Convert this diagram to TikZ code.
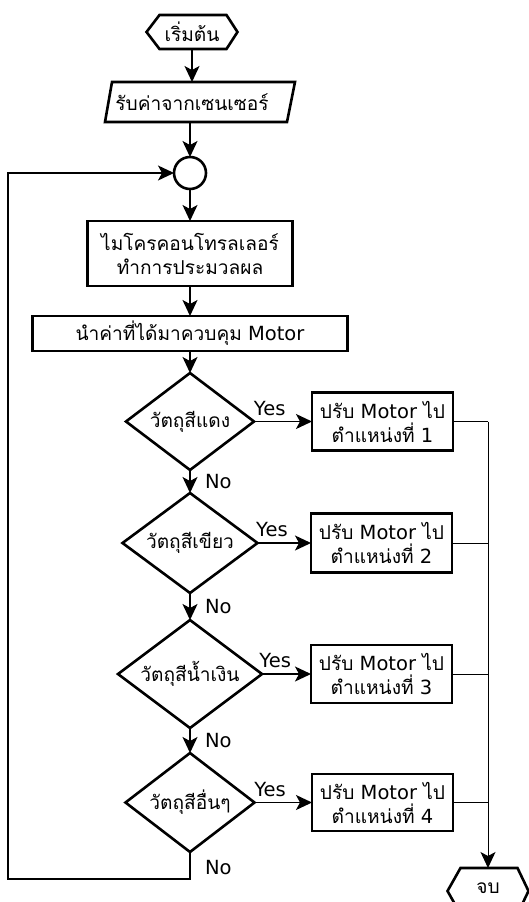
\documentclass[tikz,border=0pt]{standalone}
\usepackage{fontspec}
\setmainfont{DejaVu Sans}
\newfontfamily\thaifont[Script=Thai,Scale=0.98]{Loma}
\usetikzlibrary{shapes.geometric,arrows.meta,calc}
\newcommand\termshape[1]{%
  \draw[shapeline] (#1.west) -- ($(#1.north west)+(13,0)$) -- ($(#1.north east)+(-11,0)$) -- (#1.east)
    -- ($(#1.south east)+(-11,0)$) -- ($(#1.south west)+(13,0)$) -- cycle;}
\begin{document}
\begin{tikzpicture}[x=1pt,y=-1pt,
  every node/.style={font=\fontsize{19.5}{24}\selectfont, outer sep=0pt},
  shapeline/.style={draw, line width=2.6pt, line join=miter},
  proc/.style={rectangle, shapeline, align=center, inner sep=0pt},
  dec/.style={diamond, shapeline, inner sep=0pt},
  term/.style={rectangle, inner sep=0pt, minimum width=91pt, minimum height=34pt},
  arr/.style={line width=1.5pt, -{Stealth[length=16pt,width=15pt,inset=4pt]}},
  thinline/.style={line width=1pt},
  lbl/.style={inner sep=1pt},
  txt/.style={inner sep=0pt}
]
\useasboundingbox[fill=white] (0,0) rectangle (529,902);

% nodes
\node[term] (start) at (192,32) {\thaifont เริ่มต้น};
\termshape{start}
\node[rectangle, inner sep=0pt, minimum height=40pt] (in) at (192,102) {\thaifont รับค่าจากเซนเซอร์};
\draw[shapeline] ($(in.center)+(-80,-20)$) -- ($(in.center)+(103,-20)$) -- ($(in.center)+(95,20)$) -- ($(in.center)+(-87,20)$) -- cycle;
\node[circle, shapeline, minimum size=32pt, inner sep=0pt] (c) at (190,173) {};
\node[proc, minimum width=205pt, minimum height=65pt] (p1) at (190,253.5) {\thaifont ไมโครคอนโทรลเลอร์\\\thaifont ทำการประมวลผล};
\node[proc, minimum width=315pt, minimum height=35pt] (p2) at (190,333.5) {{\thaifont นำค่าที่ได้มาควบคุม} Motor};

\node[dec, minimum width=128pt, minimum height=97pt] (d1) at (190,421.5) {};
\node[txt] (d1t) at (d1) {\thaifont วัตถุสีแดง};
\node[dec, minimum width=135pt, minimum height=100pt] (d2) at (190,543) {};
\node[txt] (d2t) at (d2) {\thaifont วัตถุสีเขียว};
\node[dec, minimum width=144pt, minimum height=108pt] (d3) at (190,674) {};
\node[txt] (d3t) at (d3) {\thaifont วัตถุสีน้ำเงิน};
\node[dec, minimum width=129pt, minimum height=99pt] (d4) at (190,802.5) {};
\node[txt] (d4t) at (d4) {\thaifont วัตถุสีอื่นๆ};

\node[proc, minimum width=141pt, minimum height=58pt] (r1) at (382.5,421.5) {{\thaifont ปรับ} Motor {\thaifont ไป}\\{\thaifont ตำแหน่งที่} 1};
\node[proc, minimum width=141pt, minimum height=59pt] (r2) at (381.5,543) {{\thaifont ปรับ} Motor {\thaifont ไป}\\{\thaifont ตำแหน่งที่} 2};
\node[proc, minimum width=141pt, minimum height=58pt] (r3) at (381.5,674) {{\thaifont ปรับ} Motor {\thaifont ไป}\\{\thaifont ตำแหน่งที่} 3};
\node[proc, minimum width=141pt, minimum height=57pt] (r4) at (382.5,802.5) {{\thaifont ปรับ} Motor {\thaifont ไป}\\{\thaifont ตำแหน่งที่} 4};

\node[term, minimum width=81pt, minimum height=46pt] (end) at (488,891) {};
\termshape{end}
\node[txt] (endt) at (488,888) {\thaifont จบ};

% main flow
\draw[arr] (start) -- (in);
\draw[arr] (in.south -| c) -- (c.north);
\draw[arr] (c) -- (p1);
\draw[arr] (p1) -- (p2);
\draw[arr] (p2) -- (d1);
\draw[arr] (d1) -- node[lbl, right=14pt]{No} (d2);
\draw[arr] (d2) -- node[lbl, right=14pt]{No} (d3);
\draw[arr] (d3) -- node[lbl, right=14pt]{No} (d4);

% yes branches
\draw[arr] (d1) -- node[lbl, pos=0.27, above=5pt]{Yes} (r1);
\draw[arr] (d2) -- node[lbl, pos=0.27, above=5pt]{Yes} (r2);
\draw[arr] (d3) -- node[lbl, pos=0.27, above=5pt]{Yes} (r3);
\draw[arr] (d4) -- node[lbl, pos=0.27, above=5pt]{Yes} (r4);

% right bus
\draw[thinline] (r1.east) -- (r1.east -| end);
\draw[thinline] (r2.east) -- (r2.east -| end);
\draw[thinline] (r3.east) -- (r3.east -| end);
\draw[thinline] (r4.east) -- (r4.east -| end);
\draw[thinline, -{Stealth[length=16pt,width=15pt,inset=4pt]}] (r1.east -| end) -- (end.north);

% loop back
\coordinate (loopb) at (190,879);
\coordinate (loopl) at (8,879);
\draw[arr] (d4.south) -- (loopb) -- (loopl) |- (c.west);
\node[lbl, anchor=west] (no4) at (204,868) {No};
\end{tikzpicture}
\end{document}
